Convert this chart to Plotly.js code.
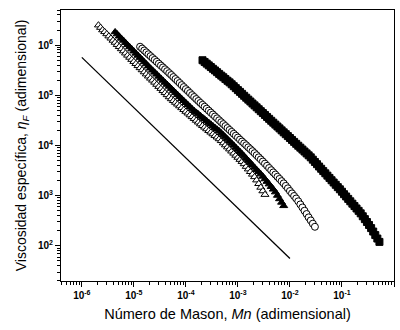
<!DOCTYPE html>
<html>
<head>
<meta charset="utf-8">
<script src="https://cdn.plot.ly/plotly-3.0.1.min.js"></script>
<style>html,body{margin:0;padding:0;background:#fff;}#chart{width:400px;height:330px;}</style>
</head>
<body>
<div id="chart"></div>
<script>
// Reference line (slope -1)
const lineMn = [1e-6, 1e-2];
const lineEta = [5.7e5, 56];

// Filled squares
const sqMn = [2.089e-4, 2.291e-4, 2.512e-4, 2.754e-4, 3.020e-4, 3.311e-4, 3.631e-4, 3.981e-4, 4.365e-4, 4.786e-4, 5.248e-4, 5.754e-4, 6.310e-4, 6.918e-4, 7.586e-4, 8.318e-4, 9.120e-4,
  1.000e-3, 1.096e-3, 1.202e-3, 1.318e-3, 1.445e-3, 1.585e-3, 1.738e-3, 1.905e-3, 2.089e-3, 2.291e-3, 2.512e-3, 2.754e-3, 3.020e-3, 3.311e-3, 3.631e-3, 3.981e-3, 4.365e-3, 4.786e-3, 5.248e-3, 5.754e-3, 6.310e-3, 6.918e-3, 7.586e-3, 8.318e-3, 9.120e-3,
  1.000e-2, 1.096e-2, 1.202e-2, 1.318e-2, 1.445e-2, 1.585e-2, 1.738e-2, 1.905e-2, 2.089e-2, 2.291e-2, 2.512e-2, 2.754e-2, 3.020e-2, 3.311e-2, 3.631e-2, 3.981e-2, 4.365e-2, 4.786e-2, 5.248e-2, 5.754e-2, 6.310e-2, 6.918e-2, 7.586e-2, 8.318e-2, 9.120e-2,
  0.1000, 0.1096, 0.1202, 0.1318, 0.1445, 0.1585, 0.1738, 0.1905, 0.2089, 0.2291, 0.2512, 0.2754, 0.3020, 0.3311, 0.3631, 0.3981, 0.4365, 0.4786, 0.5248];
const sqEta = [5.00e5, 4.62e5, 4.28e5, 3.95e5, 3.66e5, 3.38e5, 3.13e5, 2.89e5, 2.67e5, 2.47e5, 2.29e5, 2.11e5, 1.95e5, 1.81e5, 1.66e5, 1.52e5, 1.39e5,
  1.27e5, 1.17e5, 1.07e5, 9.79e4, 8.96e4, 8.20e4, 7.52e4, 6.87e4, 6.30e4, 5.77e4, 5.28e4, 4.83e4, 4.43e4, 4.06e4, 3.71e4, 3.40e4, 3.11e4, 2.85e4, 2.61e4, 2.39e4, 2.19e4, 2.00e4, 1.83e4, 1.68e4, 1.54e4,
  1.41e4, 1.29e4, 1.18e4, 1.08e4, 9.89e3, 9.06e3, 8.30e3, 7.59e3, 6.95e3, 6.37e3, 5.81e3, 5.22e3, 4.70e3, 4.24e3, 3.81e3, 3.44e3, 3.09e3, 2.79e3, 2.51e3, 2.26e3, 2.03e3, 1.83e3, 1.65e3, 1.48e3, 1.34e3,
  1.20e3, 1.07e3, 964, 863, 773, 693, 621, 556, 499, 445, 389, 341, 299, 261, 226, 193, 164, 140, 120];

// Open circles
const ciMn = [1.318e-5, 1.445e-5, 1.585e-5, 1.738e-5, 1.905e-5, 2.089e-5, 2.291e-5, 2.512e-5, 2.754e-5, 3.020e-5, 3.311e-5, 3.631e-5, 3.981e-5, 4.365e-5, 4.786e-5, 5.248e-5, 5.754e-5, 6.310e-5, 6.918e-5, 7.586e-5, 8.318e-5, 9.120e-5,
  1.000e-4, 1.096e-4, 1.202e-4, 1.318e-4, 1.445e-4, 1.585e-4, 1.738e-4, 1.905e-4, 2.089e-4, 2.291e-4, 2.512e-4, 2.754e-4, 3.020e-4, 3.311e-4, 3.631e-4, 3.981e-4, 4.365e-4, 4.786e-4, 5.248e-4, 5.754e-4, 6.310e-4, 6.918e-4, 7.586e-4, 8.318e-4, 9.120e-4,
  1.000e-3, 1.096e-3, 1.202e-3, 1.318e-3, 1.445e-3, 1.585e-3, 1.738e-3, 1.905e-3, 2.089e-3, 2.291e-3, 2.512e-3, 2.754e-3, 3.020e-3, 3.311e-3, 3.631e-3, 3.981e-3, 4.365e-3, 4.786e-3, 5.248e-3, 5.754e-3, 6.310e-3, 6.918e-3, 7.586e-3, 8.318e-3, 9.120e-3,
  1.000e-2, 1.096e-2, 1.202e-2, 1.318e-2, 1.445e-2, 1.585e-2, 1.738e-2, 1.905e-2, 2.089e-2, 2.291e-2, 2.512e-2, 2.754e-2, 3.020e-2];
const ciEta = [9.29e5, 8.53e5, 7.82e5, 7.18e5, 6.58e5, 6.04e5, 5.53e5, 5.08e5, 4.66e5, 4.28e5, 3.92e5, 3.60e5, 3.30e5, 3.03e5, 2.77e5, 2.54e5, 2.31e5, 2.11e5, 1.93e5, 1.76e5, 1.60e5, 1.46e5,
  1.33e5, 1.22e5, 1.11e5, 1.01e5, 9.25e4, 8.43e4, 7.71e4, 7.05e4, 6.46e4, 5.92e4, 5.41e4, 4.95e4, 4.53e4, 4.15e4, 3.79e4, 3.48e4, 3.18e4, 2.91e4, 2.67e4, 2.44e4, 2.23e4, 2.04e4, 1.87e4, 1.71e4, 1.57e4,
  1.44e4, 1.31e4, 1.20e4, 1.10e4, 1.01e4, 9.20e3, 8.43e3, 7.71e3, 7.03e3, 6.40e3, 5.81e3, 5.28e3, 4.80e3, 4.35e3, 3.94e3, 3.56e3, 3.22e3, 2.91e3, 2.64e3, 2.38e3, 2.16e3, 1.95e3, 1.76e3, 1.57e3, 1.40e3,
  1.24e3, 1.11e3, 986, 879, 773, 670, 582, 501, 431, 370, 321, 277, 240];

// Filled triangles
const ftMn = [4.365e-6, 4.786e-6, 5.248e-6, 5.754e-6, 6.310e-6, 6.918e-6, 7.586e-6, 8.318e-6, 9.120e-6,
  1.000e-5, 1.096e-5, 1.202e-5, 1.318e-5, 1.445e-5, 1.585e-5, 1.738e-5, 1.905e-5, 2.089e-5, 2.291e-5, 2.512e-5, 2.754e-5, 3.020e-5, 3.311e-5, 3.631e-5, 3.981e-5, 4.365e-5, 4.786e-5, 5.248e-5, 5.754e-5, 6.310e-5, 6.918e-5, 7.586e-5, 8.318e-5, 9.120e-5,
  1.000e-4, 1.096e-4, 1.202e-4, 1.318e-4, 1.445e-4, 1.585e-4, 1.738e-4, 1.905e-4, 2.089e-4, 2.291e-4, 2.512e-4, 2.754e-4, 3.020e-4, 3.311e-4, 3.631e-4, 3.981e-4, 4.365e-4, 4.786e-4, 5.248e-4, 5.754e-4, 6.310e-4, 6.918e-4, 7.586e-4, 8.318e-4, 9.120e-4,
  1.000e-3, 1.096e-3, 1.202e-3, 1.318e-3, 1.445e-3, 1.585e-3, 1.738e-3, 1.905e-3, 2.089e-3, 2.291e-3, 2.512e-3, 2.754e-3, 3.020e-3, 3.311e-3, 3.631e-3, 3.981e-3, 4.365e-3, 4.786e-3, 5.248e-3, 5.754e-3, 6.310e-3, 6.918e-3, 7.586e-3];
const ftEta = [1.83e6, 1.66e6, 1.50e6, 1.36e6, 1.24e6, 1.12e6, 1.01e6, 9.20e5, 8.34e5,
  7.57e5, 6.85e5, 6.22e5, 5.64e5, 5.12e5, 4.63e5, 4.21e5, 3.81e5, 3.46e5, 3.15e5, 2.87e5, 2.62e5, 2.38e5, 2.17e5, 1.98e5, 1.80e5, 1.64e5, 1.50e5, 1.36e5, 1.24e5, 1.13e5, 1.03e5, 9.40e4, 8.55e4, 7.80e4,
  7.10e4, 6.47e4, 5.90e4, 5.37e4, 4.93e4, 4.56e4, 4.23e4, 3.91e4, 3.61e4, 3.35e4, 3.10e4, 2.86e4, 2.65e4, 2.45e4, 2.27e4, 2.10e4, 1.95e4, 1.78e4, 1.62e4, 1.47e4, 1.34e4, 1.22e4, 1.11e4, 1.01e4, 9.14e3,
  8.32e3, 7.55e3, 6.82e3, 6.15e3, 5.55e3, 5.00e3, 4.51e3, 4.06e3, 3.66e3, 3.30e3, 2.98e3, 2.69e3, 2.42e3, 2.15e3, 1.91e3, 1.70e3, 1.51e3, 1.34e3, 1.18e3, 1.01e3, 861, 735, 628];

// Open triangles
const otMn = [2.089e-6, 2.291e-6, 2.512e-6, 2.754e-6, 3.020e-6, 3.311e-6, 3.631e-6, 3.981e-6, 4.365e-6, 4.786e-6, 5.248e-6, 5.754e-6, 6.310e-6, 6.918e-6, 7.586e-6, 8.318e-6, 9.120e-6,
  1.000e-5, 1.096e-5, 1.202e-5, 1.318e-5, 1.445e-5, 1.585e-5, 1.738e-5, 1.905e-5, 2.089e-5, 2.291e-5, 2.512e-5, 2.754e-5, 3.020e-5, 3.311e-5, 3.631e-5, 3.981e-5, 4.365e-5, 4.786e-5, 5.248e-5, 5.754e-5, 6.310e-5, 6.918e-5, 7.586e-5, 8.318e-5, 9.120e-5,
  1.000e-4, 1.096e-4, 1.202e-4, 1.318e-4, 1.445e-4, 1.585e-4, 1.738e-4, 1.905e-4, 2.089e-4, 2.291e-4, 2.512e-4, 2.754e-4, 3.020e-4, 3.311e-4, 3.631e-4, 3.981e-4, 4.365e-4, 4.786e-4, 5.248e-4, 5.754e-4, 6.310e-4, 6.918e-4, 7.586e-4, 8.318e-4, 9.120e-4,
  1.000e-3, 1.096e-3, 1.202e-3, 1.318e-3, 1.445e-3, 1.585e-3, 1.738e-3, 1.905e-3, 2.089e-3, 2.291e-3, 2.512e-3, 2.754e-3, 3.020e-3, 3.311e-3];
const otEta = [2.5e6, 2.24e6, 2.0e6, 1.84e6, 1.67e6, 1.51e6, 1.37e6, 1.24e6, 1.13e6, 1.02e6, 9.27e5, 8.40e5, 7.62e5, 6.90e5, 6.25e5, 5.68e5, 5.15e5,
  4.68e5, 4.26e5, 3.87e5, 3.52e5, 3.20e5, 2.91e5, 2.64e5, 2.40e5, 2.18e5, 1.99e5, 1.81e5, 1.64e5, 1.49e5, 1.36e5, 1.23e5, 1.12e5, 1.02e5, 9.27e4, 8.47e4, 7.80e4, 7.19e4, 6.62e4, 6.10e4, 5.61e4, 5.16e4,
  4.75e4, 4.39e4, 4.04e4, 3.72e4, 3.42e4, 3.15e4, 2.90e4, 2.67e4, 2.48e4, 2.30e4, 2.13e4, 1.97e4, 1.83e4, 1.69e4, 1.57e4, 1.46e4, 1.35e4, 1.24e4, 1.12e4, 1.02e4, 9.29e3, 8.45e3, 7.67e3, 6.98e3, 6.34e3,
  5.77e3, 5.24e3, 4.76e3, 4.29e3, 3.80e3, 3.38e3, 3.00e3, 2.66e3, 2.37e3, 2.04e3, 1.73e3, 1.46e3, 1.24e3, 1.05e3];

// Tick labels
const xTickVals = [1e-6, 1e-5, 1e-4, 1e-3, 1e-2, 1e-1, 1];
const xTickText = ['10<sup>-6</sup>', '10<sup>-5</sup>', '10<sup>-4</sup>', '10<sup>-3</sup>', '10<sup>-2</sup>', '10<sup>-1</sup>', '10<sup>0</sup>'];
const yTickVals = [1e2, 1e3, 1e4, 1e5, 1e6];
const yTickText = ['10<sup>2</sup>', '10<sup>3</sup>', '10<sup>4</sup>', '10<sup>5</sup>', '10<sup>6</sup>'];

function minorVals(lo, hi) {
  const out = [];
  for (let e = lo; e <= hi; e++) for (let m = 2; m <= 9; m++) out.push(m * Math.pow(10, e));
  return out;
}

const FONT = 'Liberation Sans, Arial, sans-serif';
const mk = (symbol, fill) => ({symbol: symbol, size: 7, color: fill, line: {color: '#000', width: 1}});

const traces = [
  {x: lineMn, y: lineEta, mode: 'lines', line: {color: '#000', width: 1.3}, hoverinfo: 'skip'},
  {x: sqMn, y: sqEta, mode: 'markers', marker: mk('square', '#000')},
  {x: ciMn, y: ciEta, mode: 'markers', marker: mk('circle', '#fff')},
  {x: otMn, y: otEta, mode: 'markers', marker: mk('triangle-up', '#fff')},
  {x: ftMn, y: ftEta, mode: 'markers', marker: mk('triangle-up', '#000')}
];

const axisCommon = {
  type: 'log', showgrid: false, zeroline: false,
  showline: true, linecolor: '#000', linewidth: 1, mirror: true,
  ticks: 'outside', ticklen: 5, tickwidth: 1, tickcolor: '#000',
  tickmode: 'array',
  tickfont: {family: FONT, size: 10, color: '#000', weight: 'bold'}
};

const layout = {
  width: 400, height: 330,
  margin: {l: 61, r: 6, t: 10, b: 49},
  paper_bgcolor: '#fff', plot_bgcolor: '#fff',
  showlegend: false,
  font: {family: FONT, color: '#000'},
  xaxis: Object.assign({}, axisCommon, {
    range: [-6.4, 0],
    tickvals: xTickVals, ticktext: xTickText,
    minor: {ticks: 'outside', ticklen: 3, tickwidth: 1, tickcolor: '#000', tickvals: minorVals(-7, -1)},
    title: {text: 'Número de Mason, <i>Mn</i> (adimensional)', font: {family: FONT, size: 14.5, color: '#000'}, standoff: 8}
  }),
  yaxis: Object.assign({}, axisCommon, {
    range: [1.3, 6.7],
    tickvals: yTickVals, ticktext: yTickText,
    minor: {ticks: 'outside', ticklen: 3, tickwidth: 1, tickcolor: '#000', tickvals: minorVals(1, 6)},
    title: {text: 'Viscosidad específica, <i>η<sub>F</sub></i> (adimensional)', font: {family: FONT, size: 14, color: '#000'}, standoff: 8}
  })
};

Plotly.newPlot('chart', traces, layout, {staticPlot: true, displayModeBar: false});
</script>
</body>
</html>
